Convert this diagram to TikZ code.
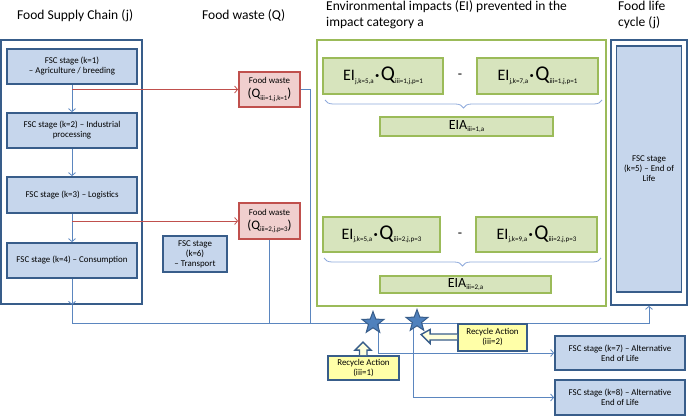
\documentclass[tikz,border=0pt]{standalone}
\usepackage{fontspec}
\setmainfont{Carlito}
\usetikzlibrary{arrows.meta,shapes.geometric,decorations.pathreplacing}
\definecolor{dblue}{HTML}{385D8A}
\definecolor{lblue}{HTML}{C6D6EC}
\definecolor{cblue}{HTML}{5B86BF}
\definecolor{bracecol}{HTML}{8EA9DB}
\definecolor{rborder}{HTML}{C0504D}
\definecolor{rfill}{HTML}{F0CFCE}
\definecolor{gborder}{HTML}{9BBB59}
\definecolor{gfill}{HTML}{D7E4BD}
\definecolor{yfill}{HTML}{FFFFA8}
\definecolor{starfill}{HTML}{4F81BD}
\newcommand\lowsub[1]{\raisebox{-2.5pt}{\fontsize{7}{7}\selectfont #1}}
\newcommand\EIterm[2]{{\fontsize{16}{16}\selectfont EI}\lowsub{#1}\,{\fontsize{16}{16}\selectfont\textbf{·}}\,{\fontsize{21}{21}\selectfont Q}\lowsub{#2}}
\begin{document}
\begin{tikzpicture}[x=1pt,y=-1pt,
  every node/.style={inner sep=0pt, align=center, font=\fontsize{8.9}{10}\selectfont},
  title/.style={font=\fontsize{13.5}{16.5}\selectfont, align=left},
  outerbox/.style={draw=dblue, line width=1.8pt},
  fscbox/.style={draw=dblue, line width=1.8pt, fill=lblue},
  fwbox/.style={draw=rborder, line width=1.8pt, fill=rfill},
  gouter/.style={draw=gborder, line width=1.8pt},
  eibox/.style={draw=gborder, line width=1.8pt, fill=gfill},
  rabox/.style={draw=dblue, line width=1.8pt, fill=yfill},
  tipv/.style={-{Straight Barb[length=3pt,width=7pt]}},
  conn/.style={draw=cblue, line width=0.8pt},
  redconn/.style={draw=rborder, line width=0.8pt},
  brc/.style={draw=bracecol, line width=0.8pt, decorate, decoration={brace, amplitude=8pt}},
  blockarrow/.style={draw=dblue, line width=1.4pt, fill=yfill!40, line join=miter},
  starnode/.style={star, star points=5, star point ratio=2.4, minimum size=23pt, fill=starfill, draw=dblue, line width=1pt}
]
\useasboundingbox (0,0) rectangle (689,417);

% titles
\node[title, anchor=base west] (t1) at (17,19.5) {Food Supply Chain (j)};
\node[title, anchor=base west] (t2) at (202,19.5) {Food waste (Q)};
\node[title, anchor=north west] (t3) at (326,0) {Environmental impacts (EI) prevented in the\\impact category a};
\node[title, anchor=north west] (t4) at (618,0.5) {Food life\\cycle (j)};

% food supply chain
\node[outerbox, minimum width=141pt, minimum height=264pt] (fsc) at (71.5,172) {};
\node[fscbox, minimum width=130pt, minimum height=35pt] (s1) at (72,66.5) {FSC stage (k=1)\\– Agriculture / breeding};
\node[fscbox, minimum width=130pt, minimum height=35pt] (s2) at (72,130.5) {FSC stage (k=2) – Industrial\\processing};
\node[fscbox, minimum width=130pt, minimum height=36pt] (s3) at (72,195) {FSC stage (k=3) – Logistics};
\node[fscbox, minimum width=130pt, minimum height=35pt] (s4) at (72,260.5) {FSC stage (k=4) – Consumption};

% food waste
\node[fwbox, minimum width=61pt, minimum height=35pt] (fw1) at (269.5,89.5) {Food waste\\[4pt]{\fontsize{13}{13}\selectfont (Q\lowsub{iii=1,j,k=1})}};
\node[fwbox, minimum width=61pt, minimum height=36pt] (fw2) at (269.5,221) {Food waste\\[4pt]{\fontsize{13}{13}\selectfont (Q\lowsub{iii=2,j,p=3})}};

\node[fscbox, minimum width=64pt, minimum height=36pt] (s6) at (195,254) {FSC stage\\(k=6)\\– Transport};

% environmental impacts
\node[gouter, minimum width=289pt, minimum height=266pt] (gb) at (461.5,173) {};
\node[eibox, minimum width=120pt, minimum height=36pt] (e1) at (383,76) {\EIterm{j,k=5,a}{iii=1,j,p=1}};
\node[eibox, minimum width=121pt, minimum height=36pt] (e2) at (537.5,76) {\EIterm{j,k=7,a}{iii=1,j,p=1}};
\node[font=\fontsize{14}{14}\selectfont] (m1) at (460,76) {-};
\draw[brc] (602,100) -- (325,100);
\node[eibox, minimum width=173pt, minimum height=19pt] (eia1) at (466.5,126.5) {{\fontsize{14}{14}\selectfont EIA}\lowsub{iii=1,a}};

\node[eibox, minimum width=117pt, minimum height=35pt] (e3) at (381.5,234.5) {\EIterm{j,k=5,a}{iii=2,j,p=3}};
\node[eibox, minimum width=121pt, minimum height=35pt] (e4) at (536.5,234.5) {\EIterm{j,k=9,a}{iii=2,j,p=3}};
\node[font=\fontsize{14}{14}\selectfont] (m2) at (460,235) {-};
\draw[brc] (601,258) -- (324,258);
\node[eibox, minimum width=171pt, minimum height=17pt] (eia2) at (465.5,284.5) {{\fontsize{14}{14}\selectfont EIA}\lowsub{iii=2,a}};

% food life cycle
\node[outerbox, minimum width=76pt, minimum height=265pt] (flc) at (649,172.5) {};
\node[fscbox, minimum width=65pt, minimum height=246pt] (s5) at (649,169) {FSC stage\\(k=5) – End of\\Life};

% alternative end of life
\node[fscbox, minimum width=130pt, minimum height=34pt] (s7) at (620,353) {FSC stage (k=7) – Alternative\\End of Life};
\node[fscbox, minimum width=130pt, minimum height=35pt] (s8) at (620,397.5) {FSC stage (k=8) – Alternative\\End of Life};

% connectors in the chain
\draw[conn, tipv] (s1) -- (s2);
\draw[conn, tipv] (s2) -- (s3);
\draw[conn, tipv] (s3) -- (s4);
\draw[conn, tipv] (s4.south) -- (s4.south |- fsc.south);
\coordinate (hb) at (72,323);
\draw[conn] (s4.south |- fsc.south) -- (hb);
\draw[conn, tipv] (hb) -| (flc.south);

% waste flows
\coordinate (b1) at (s1.south |- fw1.west);
\coordinate (b2) at (s3.south |- fw2.west);
\draw[redconn, tipv] (b1) -- (fw1.west);
\draw[redconn, tipv] (b2) -- (fw2.west);
\coordinate (j1) at (310,323);
\draw[conn] (fw1.east) -| (j1);
\draw[conn] (fw2.south) -- (fw2.south |- hb);

% recycle branches
\coordinate (c1) at (378,323);
\coordinate (c2) at (413,321);
\draw[conn, tipv] (c1) |- (s7.west);
\draw[conn, tipv] (c2) |- (s8.west);

% stars
\node[starnode] (st1) at (373,323) {};
\node[starnode] (st2) at (417,321) {};

% recycle actions
\node[rabox, minimum width=69pt, minimum height=27pt] (ra2) at (492.5,337.5) {Recycle Action\\(iii=2)};
\node[rabox, minimum width=71pt, minimum height=24pt] (ra1) at (363.5,368) {Recycle Action\\(iii=1)};

\draw[blockarrow, shift={(ra2.west)}] (0,-3.5) -- (-27,-3.5) -- (-27,-8) -- (-36,-3) -- (-27,6) -- (-27,2.5) -- (0,2.5);
\draw[blockarrow, shift={(ra1.north)}] (-4,0) -- (-4,-5) -- (-8.5,-5) -- (-0.5,-13) -- (7.5,-5) -- (3.5,-5) -- (3.5,0);
\end{tikzpicture}
\end{document}
